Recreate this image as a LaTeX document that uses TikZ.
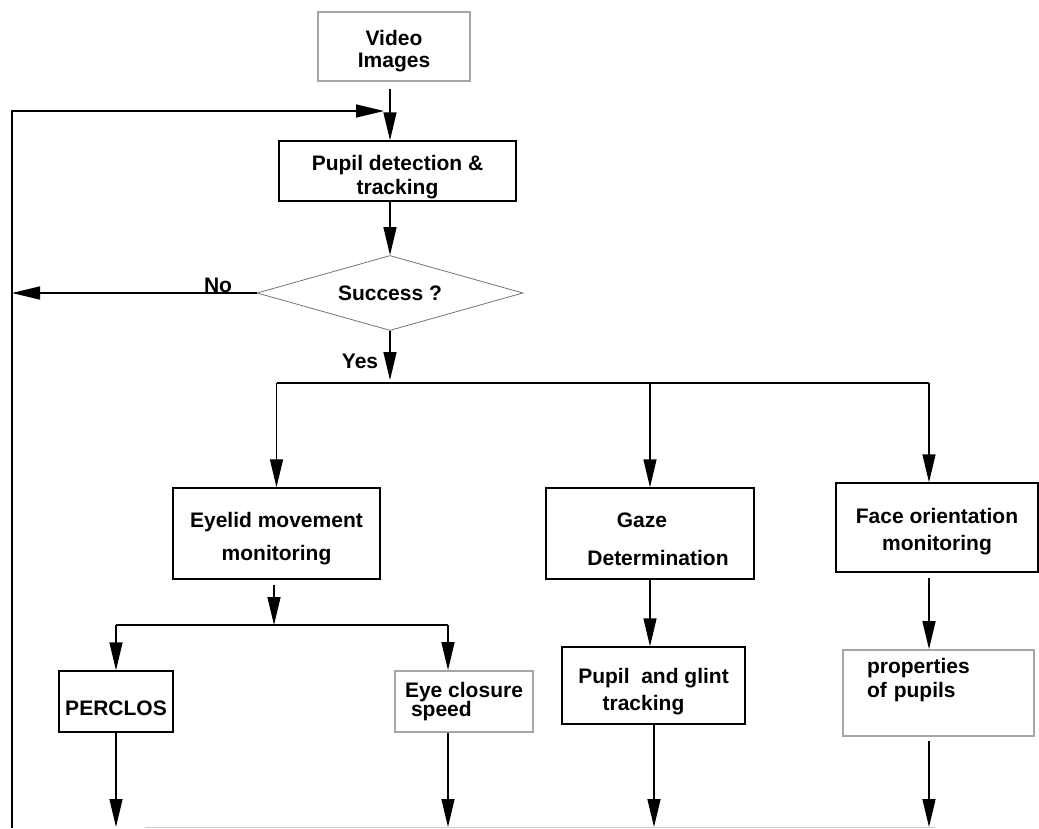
\documentclass[tikz,border=0pt]{standalone}
\usepackage{fontspec}
\setmainfont{Liberation Sans}
\usetikzlibrary{shapes.geometric,arrows.meta}

\begin{document}
\begin{tikzpicture}[x=1pt, y=-1pt, font=\fontsize{21}{24}\selectfont\bfseries]
  \tikzset{box/.style={draw, line width=1.4pt, inner sep=2pt, align=center},
           gray box/.style={box, draw=black!35, line width=1.7pt},
           arr/.style={-{Triangle[length=28pt,width=13pt]}, line width=1.4pt}}
  \useasboundingbox (0,0) rectangle (1039,828);

  % Input, detection and test
  \node[gray box, minimum width=152pt, minimum height=69pt] (video) at (394,46.5) {\rule{0pt}{24pt}Video\\[-2pt]Images};
  \node[box, minimum width=237pt, minimum height=60pt] (pupil) at (397.5,171) {\rule{0pt}{27pt}Pupil detection \&\\tracking};
  \node[diamond, draw=black!55, line width=0.8pt, aspect=3.55, minimum width=266pt,
        minimum height=75pt, inner sep=0pt] (dec) at (390,293) {Success ?};

  % Three monitoring branches
  \node[box, minimum width=207pt, minimum height=91pt] (eyelid) at (276.5,533.5) {\rule{0pt}{26pt}Eyelid movement\\[9pt]monitoring};
  \node[box, minimum width=208pt, minimum height=91pt] (gaze) at (650,533.5) {\rule{0pt}{26pt}Gaze\hspace*{16pt}\\[14pt]\hspace*{16pt}Determination};
  \node[box, minimum width=202pt, minimum height=89pt] (face) at (937,527.5) {\rule{0pt}{24pt}Face orientation\\[3pt]monitoring};

  % Measures
  \node[box, minimum width=114pt, minimum height=61pt, text height=30pt, text depth=2pt] (perclos) at (116,701.5) {PERCLOS};
  \node[gray box, minimum width=138pt, minimum height=61pt, align=left] (closure) at (464,701.5) {Eye closure\\[-5pt]\hspace*{6pt}speed};
  \node[box, minimum width=183pt, minimum height=77pt] (glint) at (653.5,685.5) {\rule{0pt}{27pt}Pupil\ \ and glint\\[3pt]tracking\hspace*{20pt}};
  \node[gray box, minimum width=191pt, minimum height=86pt, align=left, text width=143pt,
        inner xsep=24pt] (props) at (938.5,693) {properties\\of pupils\\\strut};

  % Helper points
  \coordinate (loop bottom) at (12,828);
  \coordinate (loop in) at (384,111);
  \coordinate (split) at (390,383);
  \coordinate (esplit) at (274,625);
  \coordinate (face top) at ([xshift=-8pt]face.north);
  \coordinate (closure top) at ([xshift=-16pt]closure.north);
  \coordinate (bottom) at (0,827);

  % Main chain and feedback loop
  \draw[arr] (loop bottom) |- (loop in);
  \draw[arr, shorten <=7pt] (video.south -| dec.north) -- (pupil.north -| dec.north);
  \draw[arr] (pupil.south -| dec.north) -- (dec.north);
  \draw[arr] (dec.west) -- (dec.west -| loop bottom);
  \node (no) at (218,285) {No};
  \draw[arr, shorten >=3pt] (dec.south) -- (split);
  \node (yes) at (360,361) {Yes};

  % Fan out
  \draw[line width=1.4pt] (split -| eyelid.north) -- (split -| face top);
  \draw[arr] (split -| eyelid.north) -- (eyelid.north);
  \draw[arr] (split -| gaze.north) -- (gaze.north);
  \draw[arr] (split -| face top) -- (face top);

  % Eyelid sub-branches
  \draw[arr, shorten <=5pt] (eyelid.south -| esplit) -- (esplit);
  \draw[line width=1.4pt] (esplit -| perclos.north) -- (esplit -| closure top);
  \draw[arr] (esplit -| perclos.north) -- (perclos.north);
  \draw[arr] (esplit -| closure top) -- (closure top);

  % Gaze and face chains
  \draw[arr] (gaze.south) -- (gaze.south |- glint.north);
  \draw[arr, shorten <=5pt] (face.south -| face top) -- (props.north -| face top);

  % Outputs to the bottom edge
  \draw[black!20, line width=1pt] (145,827.5) -- (935,827.5);
  \draw[arr] (perclos.south) -- (perclos.south |- bottom);
  \draw[arr] (closure.south -| closure top) -- (closure top |- bottom);
  \draw[arr] ([xshift=0.5pt]glint.south) -- ([xshift=0.5pt]glint.south |- bottom);
  \draw[arr, shorten <=4pt] (props.south -| face top) -- (face top |- bottom);
\end{tikzpicture}
\end{document}
